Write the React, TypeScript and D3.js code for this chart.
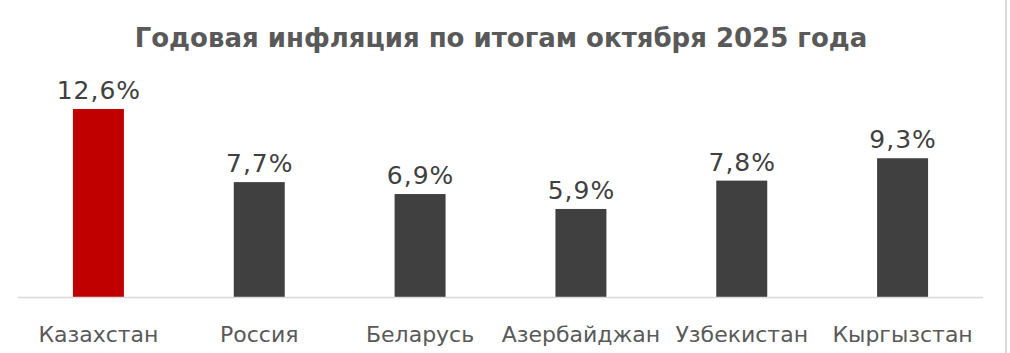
import React from "react";
import * as d3 from "d3";

const categories = ["Казахстан", "Россия", "Беларусь", "Азербайджан", "Узбекистан", "Кыргызстан"];
const values = [12.6, 7.7, 6.9, 5.9, 7.8, 9.3];
const labels = ["12,6%", "7,7%", "6,9%", "5,9%", "7,8%", "9,3%"];
const barColors = ["#C00000", "#404040", "#404040", "#404040", "#404040", "#404040"];
const title = "Годовая инфляция по итогам октября 2025 года";

const W = 1010;
const H = 353;

export default function App() {
  const x = d3.scaleBand<string>().domain(categories).range([18, 983]).paddingInner(0.683).paddingOuter(0.3415);
  const y = d3.scaleLinear().domain([0, 14]).range([297, 88.1]);
  const font = "'DejaVu Sans', Verdana, sans-serif";
  return (
    <svg width={W} height={H} style={{ position: "absolute", left: 0, top: 0, background: "#fff" }}>
      <rect x={0} y={0} width={W} height={H} fill="#fff" />
      <line x1={1006} x2={1006} y1={0} y2={H} stroke="#D9D9D9" strokeWidth={2} />
      <text x={501} y={47} textAnchor="middle" fontFamily={font} fontWeight="bold" fontSize={26} fill="#595959">
        {title}
      </text>
      {categories.map((c, i) => (
        <g key={c}>
          <rect x={x(c)} y={y(values[i])} width={x.bandwidth()} height={y(0) - y(values[i])} fill={barColors[i]} />
          <text x={(x(c) as number) + x.bandwidth() / 2 + 0.5} y={y(values[i]) - 10} textAnchor="middle" fontFamily={font} fontSize={25} letterSpacing={1} fill="#404040">
            {labels[i]}
          </text>
          <text x={(x(c) as number) + x.bandwidth() / 2} y={342} textAnchor="middle" fontFamily={font} fontSize={22} fill="#595959">
            {c}
          </text>
        </g>
      ))}
      <line x1={18} x2={983} y1={297.5} y2={297.5} stroke="#D9D9D9" strokeWidth={1.5} />
    </svg>
  );
}
